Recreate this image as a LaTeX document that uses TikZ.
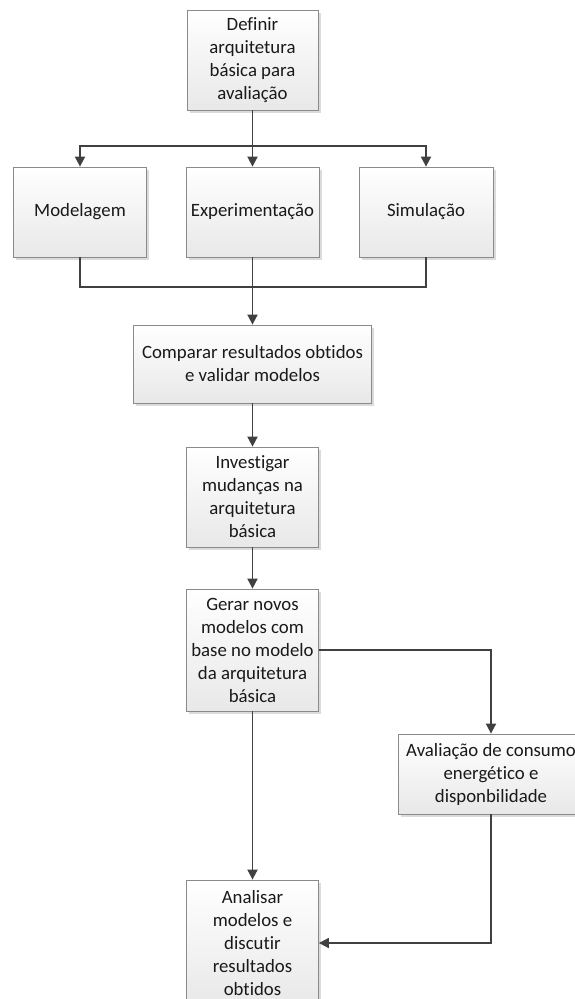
\documentclass[tikz,border=0pt]{standalone}
\usepackage{fontspec}
\setmainfont{Carlito}[Ligatures=NoCommon]
\usetikzlibrary{arrows.meta,shadows}
\definecolor{linegray}{HTML}{404040}
\definecolor{framegray}{HTML}{8A8A8A}
\begin{document}
\begin{tikzpicture}[x=1pt,y=-1pt,
  stepbox/.style={draw=framegray, line width=0.8pt, top color=white, bottom color=black!9,
    drop shadow={shadow xshift=2.5pt, shadow yshift=-2.5pt, fill=black!14, opacity=1},
    align=center, inner sep=0pt, text=black!90, font=\fontsize{18.8}{23}\selectfont},
  link/.style={draw=linegray, line width=1.8pt},
  arrow/.style={link, -{Triangle[width=10pt,length=10pt]}}]
\useasboundingbox (0,0) rectangle (575,999);
\clip (0,0) rectangle (575,999);
\fill[white] (0,0) rectangle (575,999);

% process boxes
\node[stepbox, minimum width=131pt, minimum height=100pt] (def) at (252.5,60)
  {Definir\\arquitetura\\básica para\\avaliação};
\node[stepbox, minimum width=133pt, minimum height=90pt] (mod) at (80,212) {Modelagem};
\node[stepbox, minimum width=133pt, minimum height=90pt] (exp) at (252.5,212) {Experimentação};
\node[stepbox, minimum width=134pt, minimum height=90pt] (sim) at (426,212) {Simulação};
\node[stepbox, minimum width=238pt, minimum height=78pt] (cmp) at (252.5,364)
  {Comparar resultados obtidos\\e validar modelos};
\node[stepbox, minimum width=132pt, minimum height=100pt] (inv) at (252.5,497)
  {Investigar\\mudanças na\\arquitetura\\básica};
\node[stepbox, minimum width=132pt, minimum height=122pt] (ger) at (252.5,650)
  {Gerar novos\\modelos com\\base no modelo\\da arquitetura\\básica};
\node[stepbox, minimum width=186pt, minimum height=80pt] (ava) at (491,774)
  {Avaliação de consumo\\energético e\\disponbilidade};
\node[stepbox, minimum width=132pt, minimum height=126pt] (ana) at (252.5,943)
  {Analisar\\modelos e\\discutir\\resultados\\obtidos};

% junction points of the fork and the merge
\coordinate (fork) at (252.5,146);
\coordinate (merge) at (252.5,287);

% fork into the three approaches
\draw[link] (def.south) -- (fork);
\draw[arrow] (fork) -| (mod.north);
\draw[arrow] (fork) -| (sim.north);
\draw[arrow] (fork) -- (exp.north);

% merge of the three approaches
\draw[link] (mod.south) |- (merge);
\draw[link] (sim.south) |- (merge);
\draw[link] (exp.south) -- (merge);
\draw[arrow] (merge) -- (cmp.north);

% main sequence
\draw[arrow] (cmp.south) -- (inv.north);
\draw[arrow] (inv.south) -- (ger.north);
\draw[arrow] (ger.south) -- (ana.north);
\draw[arrow] (ger.east) -| (ava.north);
\draw[arrow] (ava.south) |- (ana.east);
\end{tikzpicture}
\end{document}
